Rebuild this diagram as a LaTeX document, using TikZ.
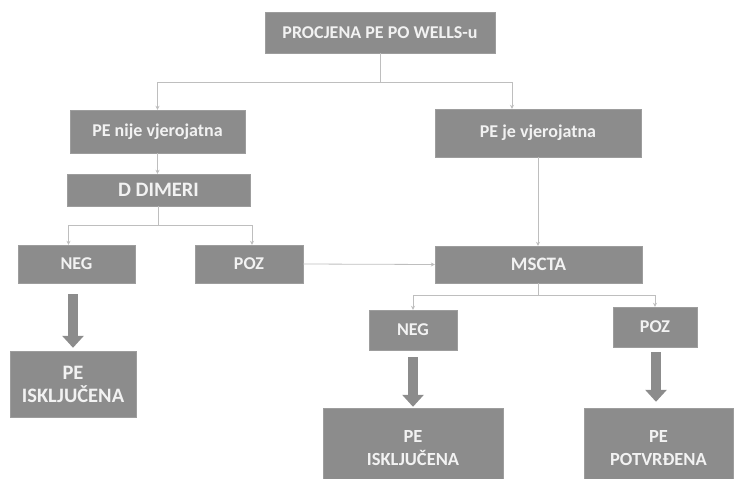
\documentclass[tikz,border=0pt]{standalone}
\usepackage{fontspec}
\setmainfont{Carlito}
\usetikzlibrary{arrows.meta}
\definecolor{boxgray}{RGB}{140,140,140}
\definecolor{linegray}{RGB}{190,190,190}
\begin{document}
\begin{tikzpicture}[x=1pt, y=-1pt,
                box/.style={draw=boxgray!85!white, fill=boxgray, text=white!95!black, font=\bfseries\fontsize{#1}{23}\selectfont, align=center, inner sep=0pt},
                box/.default=18,
                conn/.style={draw=linegray, line width=0.8pt},
                tip/.style={conn, -{Stealth[length=4pt, width=4pt]}},
                bigarrow/.style={draw=boxgray, line width=10pt, -{Triangle[width=21pt, length=12pt]}}]
                \clip (0,0) rectangle (734,479);

                \node[box=18, minimum width=230pt, minimum height=41pt] (wells) at (380,32.5) {PROCJENA PE PO WELLS-u};
                \node[box=18, minimum width=175pt, minimum height=43pt] (nije) at (157.5,131.5) {PE nije vjerojatna};
                \node[box=20.5, minimum width=183pt, minimum height=32pt] (dimeri) at (158.5,190) {D DIMERI};
                \node[box, minimum width=117pt, minimum height=38pt] (negL) at (76.5,264) {NEG};
                \node[box, minimum width=108pt, minimum height=38pt] (pozL) at (249,264) {POZ};
                \node[box=20.5, minimum width=126pt, minimum height=66pt] (isklL) at (73,384) {PE\\ISKLJUČENA};

                \node[box=18, minimum width=206pt, minimum height=48pt] (je) at (538,133) {PE je vjerojatna};
                \node[box=19, minimum width=207pt, minimum height=37pt] (msct) at (538.5,264.5) {MSCTA};
                \node[box, minimum width=88pt, minimum height=40pt] (negR) at (413,330) {NEG};
                \node[box, minimum width=84pt, minimum height=40pt] (pozR) at (655,327) {POZ};
                \node[box=18.5, minimum width=180pt, minimum height=80pt] (isklR) at (413,448) {PE\\ISKLJUČENA};
                \node[box=18.5, minimum width=149pt, minimum height=80pt] (potv) at (658.5,448) {PE\\POTVRĐENA};

                \draw[conn] (wells.south) -- ++(0,29) coordinate (split1);
                \draw[tip] (split1) -| (nije.north);
                \draw[tip] (split1) -| ([xshift=-26pt]je.north);
                \draw[tip] (nije.south) -- (nije.south |- dimeri.north);
                \draw[conn] (dimeri.south) -- ++(0,19) coordinate (split2);
                \draw[tip] (split2) -| ([xshift=-8pt]negL.north);
                \draw[tip] (split2) -| ([xshift=3pt]pozL.north);
                \draw[tip] (pozL.east) -- (msct.west);
                \draw[tip] (je.south) -- (je.south |- msct.north);
                \draw[conn] (msct.south) -- ++(0,12) coordinate (split3);
                \draw[tip] (split3) -| (negR.north);
                \draw[tip] (split3) -| (pozR.north);

                \draw[bigarrow, shorten <=11pt, shorten >=3pt] (isklL.north |- negL.south) -- (isklL.north);
                \draw[bigarrow, shorten <=7pt, shorten >=1pt] (isklR.north |- negR.south) -- (isklR.north);
                \draw[bigarrow, shorten <=5pt, shorten >=6pt] ([xshift=1pt]pozR.south) -- ([xshift=1pt]pozR.south |- potv.north);
\end{tikzpicture}
\end{document}
